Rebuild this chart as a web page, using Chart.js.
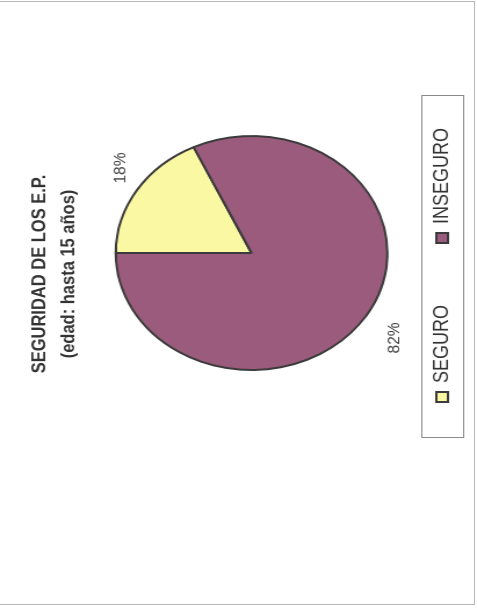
<!DOCTYPE html>
<html>
<head>
<meta charset="utf-8">
<script src="https://cdn.jsdelivr.net/npm/chart.js@4"></script>
<style>
  html, body { margin: 0; padding: 0; background: #fff; overflow: hidden; }
  #page { position: relative; width: 477px; height: 608px; }
  #wrap {
    position: absolute; left: 0; top: 0;
    width: 608px; height: 411px;
    transform-origin: 0 0;
    /* the scanned sheet is turned a quarter to the left and a bit stretched */
    transform: translate(0, 608px) rotate(-90deg) scale(1, 1.1606);
  }
  #edge { position: absolute; left: -2px; top: 1px; width: 475px; height: 602px; border: 1px solid #b8b8b8; }
</style>
</head>
<body>
<div id="page">
  <div id="edge"></div>
  <div id="wrap"><canvas id="c" width="608" height="411"></canvas></div>
</div>
<script>
const categories = ["SEGURO", "INSEGURO"];
const percentages = [18, 82];
const titleLines = ["SEGURIDAD DE LOS E.P.", "(edad: hasta 15 años)"];
const sliceColors = ["#fbf8a4", "#9b5b7c"];

// title and legend sit a little off the pie's centre in the scan
const nudgeBlocks = {
  id: "nudgeBlocks",
  afterLayout(chart) {
    const t = chart.titleBlock;
    t.left -= 21; t.right -= 21;
    const l = chart.legend;
    l.left -= 12; l.right -= 12;
  }
};

const outsideLabels = {
  id: "outsideLabels",
  afterDatasetsDraw(chart) {
    const ctx = chart.ctx;
    const meta = chart.getDatasetMeta(0);
    ctx.save();
    ctx.font = "15.5px 'Liberation Sans', Arial, sans-serif";
    ctx.fillStyle = "#444";
    ctx.textAlign = "center";
    ctx.textBaseline = "middle";
    meta.data.forEach((arc, i) => {
      const p = arc.getProps(["x", "y", "startAngle", "endAngle", "outerRadius"], true);
      const mid = (p.startAngle + p.endAngle) / 2 + 0.06;
      const r = p.outerRadius + 28;
      ctx.fillText(percentages[i] + "%", p.x + Math.cos(mid) * r, p.y + Math.sin(mid) * r + 5);
    });
    ctx.restore();
  }
};

// box round the legend, like the Excel one
const legendFrame = {
  id: "legendFrame",
  afterDraw(chart) {
    const boxes = chart.legend.legendHitBoxes;
    if (!boxes || !boxes.length) return;
    const left = Math.min(...boxes.map(b => b.left));
    const right = Math.max(...boxes.map(b => b.left + b.width));
    const midY = boxes[0].top + boxes[0].height / 2;
    const ctx = chart.ctx;
    ctx.save();
    ctx.strokeStyle = "#8a8a8a";
    ctx.lineWidth = 1;
    ctx.strokeRect(Math.round(left - 36) + 0.5, Math.round(midY - 18) + 0.5, Math.round(right - left + 68), 36);
    ctx.restore();
  }
};

new Chart(document.getElementById("c"), {
  type: "pie",
  data: {
    labels: categories,
    datasets: [{
      data: percentages,
      backgroundColor: sliceColors,
      borderColor: "#3b3b3b",
      borderWidth: 2,
      radius: 117,
      clip: false
    }]
  },
  options: {
    responsive: false,
    animation: false,
    layout: { padding: { left: 102, right: 0, top: 0, bottom: 11 } },
    plugins: {
      title: {
        display: true,
        text: titleLines,
        color: "#333",
        font: { family: "'Liberation Sans', Arial, sans-serif", size: 16.5, weight: "bold", lineHeight: 1.5 },
        padding: { top: 22, bottom: 52 }
      },
      legend: {
        position: "bottom",
        labels: {
          color: "#333",
          font: { family: "'Liberation Sans', Arial, sans-serif", size: 18 },
          boxWidth: 10,
          boxHeight: 10,
          padding: 62
        }
      },
      tooltip: { enabled: false }
    }
  },
  plugins: [nudgeBlocks, outsideLabels, legendFrame]
});
</script>
</body>
</html>
